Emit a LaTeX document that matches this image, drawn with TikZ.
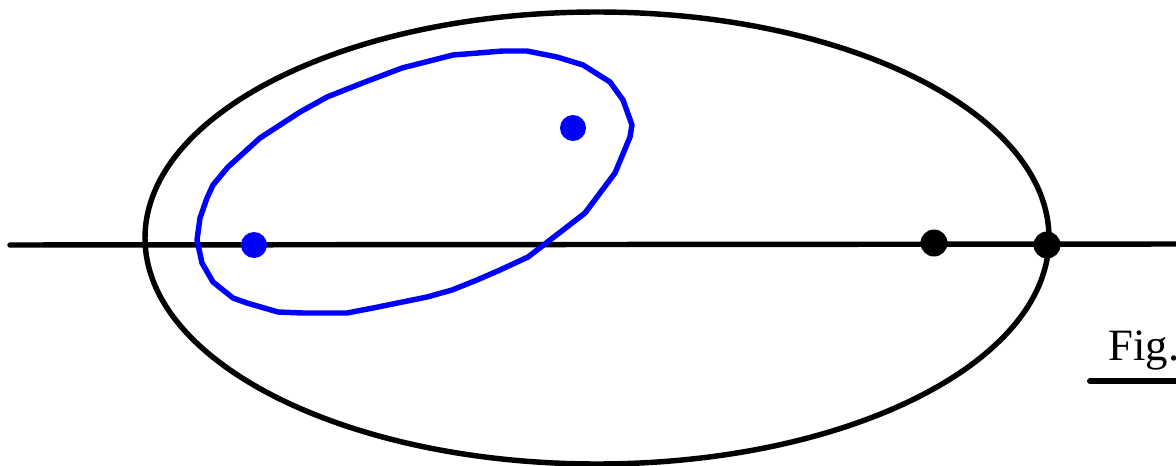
\documentclass[tikz,border=0pt]{standalone}
\usepackage{fontspec}
\setmainfont{Liberation Serif}
\usetikzlibrary{calc,positioning}
\definecolor{loopBlue}{HTML}{0000FF}

\begin{document}
\begin{tikzpicture}[
  x=0.02cm, y=-0.02cm,
  curve/.style={draw=black, line width=3.1pt},
  loopline/.style={draw=loopBlue, line width=3.1pt, line join=round},
  bdot/.style={circle, fill=black, inner sep=0pt, minimum size=0.54cm},
  udot/.style={circle, fill=loopBlue, inner sep=0pt, minimum size=0.52cm},
  figlabel/.style={font=\rmfamily\fontsize{25.5}{28}\selectfont, inner sep=0pt, anchor=base west}
]
\useasboundingbox (0,0) rectangle (1176,466);
\clip (0,0) rectangle (1176,466);

% outer ellipse and axis
\draw[curve] (597,238) ellipse [x radius=452, y radius=226];
\coordinate (axL) at (10,245);
\coordinate (axR) at (1180,244);
\draw[curve, line cap=round] (axL) -- (axR);

% blue loop
\draw[loopline] plot coordinates {
  (402,68) (453,55) (503,51) (527,51) (557,57) (583,65) (610,82) (623,100)
  (632,125) (630,137) (615,173) (585,213) (563,230) (528,257) (500,270)
  (477,280) (452,290) (427,297) (373,308) (347,313) (303,313) (278,312)
  (247,303) (233,298) (213,282) (202,263) (197,240) (200,218) (207,198)
  (213,185) (228,167) (260,138) (300,112) (327,97) (365,82)} -- cycle;

% points
\node[udot] (p1) at (254,245) {};
\node[udot] (p2) at (573,128) {};
\node[bdot] (q1) at (934,243) {};
\node[bdot] (q2) at (1047,245) {};

% caption
\node[figlabel] (fig) at (1108,360) {Fig.};
\coordinate (ulL) at (1090,381);
\coordinate (ulR) at (1180,381);
\draw[line width=3.4pt, line cap=round] (ulL) -- (ulR);
\end{tikzpicture}
\end{document}
